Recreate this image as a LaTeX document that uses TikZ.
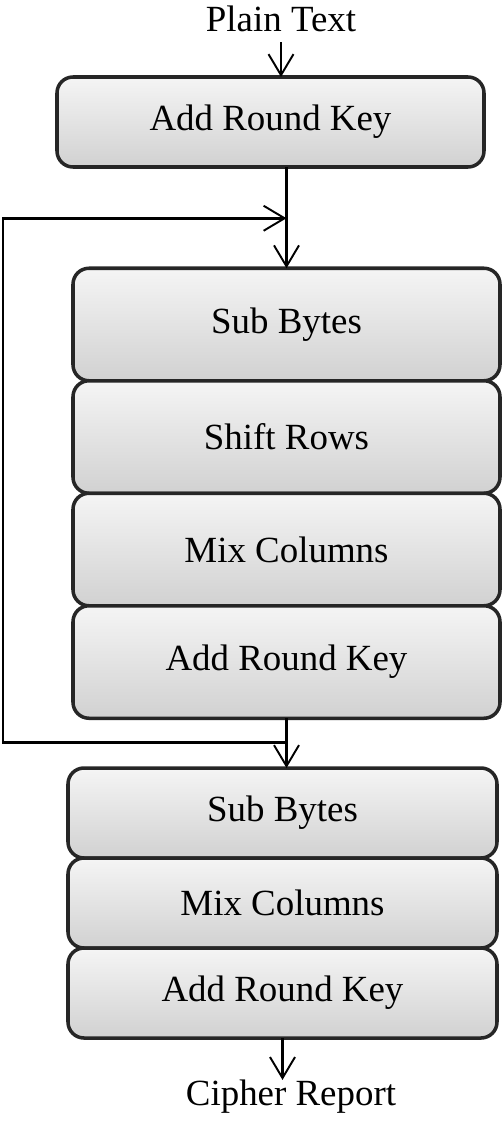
\documentclass[tikz,border=0pt]{standalone}
\usepackage{fontspec}
\setmainfont{Liberation Serif}
\usepackage{tikz}
\usetikzlibrary{arrows.meta, positioning, calc}

\begin{document}
\begin{tikzpicture}[
    >={Straight Barb[length=0.42cm, width=0.5cm, line width=1.1pt]},
    stage/.style={draw=black!85, line width=2pt, rectangle, rounded corners=0.32cm, top color=gray!8, bottom color=gray!36, minimum width=8.54cm, minimum height=2.25cm, align=center, font=\fontsize{21}{24}\selectfont, inner sep=0pt, outer sep=0pt},
    laststage/.style={stage, minimum width=8.58cm, minimum height=1.8cm},
    label/.style={font=\fontsize{21}{24}\selectfont, inner sep=0pt},
    flow/.style={->, line width=1.5pt}
]
\useasboundingbox (0,0) rectangle (10.06,-22.48);

% Input
\node[label] (plain) at (5.62,-0.38) {Plain Text};
\node[stage, minimum height=1.8cm] (ark1) at (5.41,-2.44) {Add Round Key};

% Round loop
\node[stage] (sb1) at (5.73,-6.49) {Sub Bytes};
\node[stage, below=0pt of sb1] (sr1) {Shift Rows};
\node[stage, below=0pt of sr1] (mc1) {Mix Columns};
\node[stage, below=0pt of mc1] (ark2) {Add Round Key};

% Final round
\node[laststage] (sb2) at (5.65,-16.26) {Sub Bytes};
\node[laststage, below=0pt of sb2] (mc2) {Mix Columns};
\node[laststage, below=0pt of mc2] (ark3) {Add Round Key};

% Output
\node[label] (cipher) at (5.82,-21.94) {Cipher Report};

% Connections
\coordinate (loopin) at ($(sb1.north)+(0,1.0)$);
\coordinate (loopout) at ($(ark2.south)+(0,-0.48)$);
\draw[flow, shorten <=0.2cm] (plain.south) -- (plain.south |- ark1.north);
\draw[flow] (ark1.south -| sb1.north) -- (sb1.north);
\draw[flow] (ark2.south) -- (sb2.north -| ark2.south);
\draw[flow] (ark3.south) -- (ark3.south |- cipher.north);

% Feedback of the rounds
\draw[flow] (loopout) -| ($(loopin)+(-5.67,0)$) -- (loopin);
\end{tikzpicture}
\end{document}
